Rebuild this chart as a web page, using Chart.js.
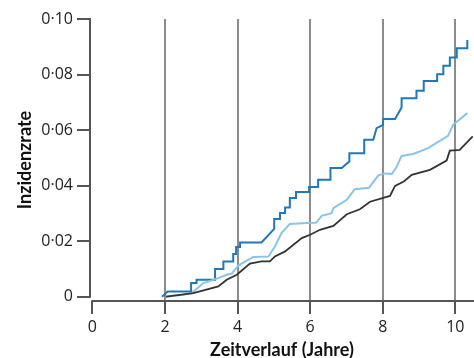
<!DOCTYPE html>
<html>
<head>
<meta charset="utf-8">
<script src="https://cdn.jsdelivr.net/npm/chart.js@4/dist/chart.umd.min.js"></script>
<style>
  body { margin: 0; background: #fff; }
</style>
</head>
<body>
<canvas id="chart" width="474" height="358"></canvas>
<script>
// tick labels
const xTicks = [0, 2, 4, 6, 8, 10];
const yTicks = [0, 0.02, 0.04, 0.06, 0.08, 0.10];

// dark blue (stepped) series
const blueT = [1.92, 2.07, 2.72, 2.72, 2.87, 2.87, 3.38, 3.38, 3.61, 3.61, 3.88, 3.88, 3.96, 3.96, 4.07, 4.07,
  4.66, 5.01, 5.01, 5.17, 5.17, 5.31, 5.31, 5.44, 5.44, 5.61, 5.61, 5.97, 5.97, 6.22, 6.22, 6.56, 6.56,
  6.87, 7.08, 7.08, 7.49, 7.49, 7.74, 7.83, 8.01, 8.01, 8.34, 8.52, 8.52, 8.93, 8.93, 9.13, 9.13,
  9.50, 9.50, 9.67, 9.67, 9.85, 9.85, 10.04, 10.04, 10.33, 10.33];
const blueV = [0, 0.0019, 0.0019, 0.0049, 0.0049, 0.0061, 0.0061, 0.0100, 0.0100, 0.0127, 0.0127, 0.0154, 0.0154, 0.0179, 0.0179, 0.0195,
  0.0195, 0.0244, 0.0280, 0.0280, 0.0301, 0.0301, 0.0321, 0.0321, 0.0355, 0.0355, 0.0377, 0.0377, 0.0395, 0.0395, 0.0421, 0.0421, 0.0463,
  0.0463, 0.0487, 0.0517, 0.0517, 0.0565, 0.0565, 0.0607, 0.0619, 0.0640, 0.0640, 0.0681, 0.0715, 0.0715, 0.0742, 0.0742, 0.0777,
  0.0777, 0.0801, 0.0801, 0.0832, 0.0832, 0.0861, 0.0861, 0.0895, 0.0895, 0.0924];

// light blue series
const lightT = [2.03, 2.50, 2.74, 3.06, 3.47, 3.70, 3.84, 4.02, 4.43, 4.85, 5.03, 5.21, 5.44, 5.90, 6.16, 6.32,
  6.59, 6.64, 7.01, 7.23, 7.62, 7.88, 8.06, 8.25, 8.38, 8.52, 8.84, 9.25, 9.80, 9.94, 10.33];
const lightV = [0, 0.0007, 0.0013, 0.0049, 0.0067, 0.0079, 0.0083, 0.0112, 0.0143, 0.0145, 0.0181, 0.0229, 0.0262, 0.0265, 0.0266, 0.0291,
  0.0301, 0.0319, 0.0349, 0.0387, 0.0392, 0.0437, 0.0444, 0.0442, 0.0467, 0.0507, 0.0514, 0.0535, 0.0579, 0.0619, 0.0661];

// black series
const blackT = [2.03, 2.78, 3.47, 3.70, 3.98, 4.34, 4.66, 4.89, 5.03, 5.31, 5.77, 6.00, 6.27, 6.64, 7.01, 7.37,
  7.65, 8.20, 8.34, 8.58, 8.80, 9.30, 9.76, 9.85, 10.12, 10.48];
const blackV = [0, 0.0013, 0.0037, 0.0061, 0.0079, 0.0119, 0.0127, 0.0127, 0.0145, 0.0163, 0.0211, 0.0223, 0.0241, 0.0255, 0.0297, 0.0315,
  0.0342, 0.0363, 0.0399, 0.0415, 0.0439, 0.0457, 0.0490, 0.0526, 0.0529, 0.0577];

function pts(ts, vs) {
  return ts.map((t, i) => ({ x: t, y: vs[i] }));
}

const axisColor = '#555555';
const gridColor = '#8c8c8c';
const tickFont = { family: "'Open Sans', sans-serif", size: 16 };
const titleFont = { family: "Lato, 'Open Sans', sans-serif", size: 18, weight: 'bold', lineHeight: 1 };

// offset axis lines (y axis stops at 0, x axis starts at 0)
const axisLines = {
  id: 'axisLines',
  beforeDatasetsDraw(chart) {
    const ctx = chart.ctx;
    const xs = chart.scales.x, ys = chart.scales.y;
    const area = chart.chartArea;
    ctx.save();
    ctx.strokeStyle = axisColor;
    ctx.lineWidth = 2;
    ctx.beginPath();
    ctx.moveTo(area.left, ys.getPixelForValue(0.10) - 1);
    ctx.lineTo(area.left, ys.getPixelForValue(0) + 1);
    ctx.moveTo(xs.getPixelForValue(0) - 1, area.bottom);
    ctx.lineTo(area.right, area.bottom);
    ctx.stroke();
    ctx.restore();
  }
};

new Chart(document.getElementById('chart'), {
  type: 'line',
  data: {
    datasets: [
      { data: pts(blackT, blackV), borderColor: '#333333', borderWidth: 1.8 },
      { data: pts(lightT, lightV), borderColor: '#88c4ea', borderWidth: 2 },
      { data: pts(blueT, blueV), borderColor: '#1f78b8', borderWidth: 2 }
    ]
  },
  options: {
    responsive: false,
    animation: false,
    devicePixelRatio: 1,
    layout: { padding: { top: 19, right: 0, left: 0, bottom: 0 } },
    elements: { point: { radius: 0 }, line: { tension: 0, fill: false } },
    plugins: { legend: { display: false }, tooltip: { enabled: false } },
    scales: {
      x: {
        type: 'linear',
        min: -0.066,
        max: 10.515,
        afterBuildTicks: s => { s.ticks = xTicks.map(v => ({ value: v })); },
        afterFit: s => { s.height = 57; },
        border: { display: false },
        grid: {
          color: c => (c.tick && c.tick.value === 0) ? 'rgba(0,0,0,0)' : gridColor,
          tickColor: axisColor,
          lineWidth: 2,
          tickLength: 13
        },
        ticks: { font: tickFont, color: '#222', padding: 4, maxRotation: 0 },
        title: {
          display: true,
          text: 'Zeitverlauf (Jahre)',
          font: titleFont,
          color: '#111',
          padding: { top: 0, bottom: -1 }
        }
      },
      y: {
        min: -0.00155,
        max: 0.10,
        afterBuildTicks: s => { s.ticks = yTicks.map(v => ({ value: v })); },
        afterFit: s => { s.width = 90; },
        border: { display: false },
        grid: {
          drawOnChartArea: false,
          color: axisColor,
          lineWidth: 2,
          tickLength: 13
        },
        ticks: {
          font: tickFont,
          color: '#222',
          padding: 4,
          callback: v => v === 0 ? '0' : v.toFixed(2).replace('.', '·')
        },
        title: {
          display: true,
          text: 'Inzidenzrate',
          font: titleFont,
          color: '#111',
          padding: { top: 16, bottom: 0 }
        }
      }
    }
  },
  plugins: [axisLines]
});
</script>
</body>
</html>
